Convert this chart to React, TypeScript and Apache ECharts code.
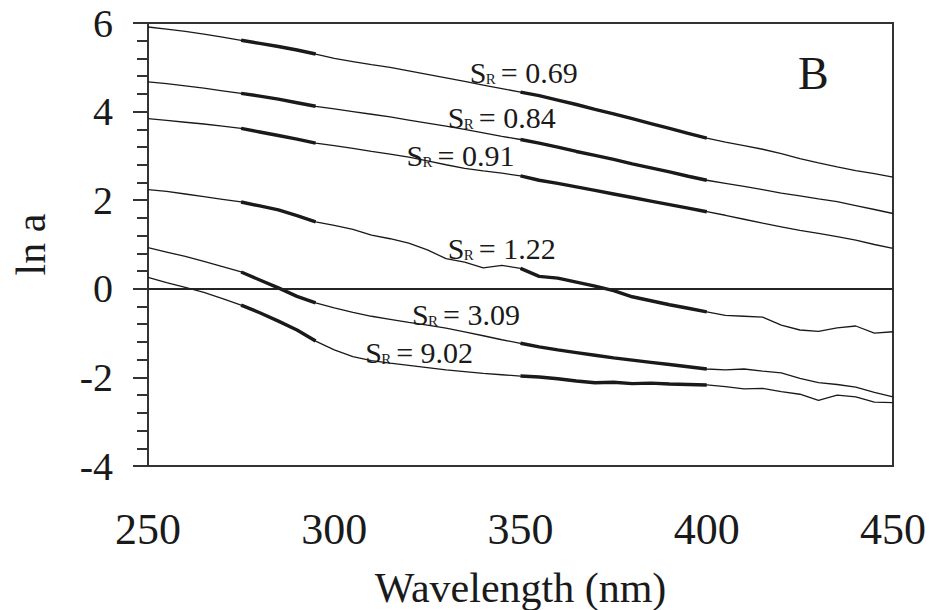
import React, { useEffect, useRef } from "react";
import * as echarts from "echarts";

// Wavelength grid (nm)
const wavelengths = [
  250, 255, 260, 265, 270, 275, 280, 285, 290, 295, 300, 305, 310, 315, 320, 325, 330, 335, 340, 345,
  350, 355, 360, 365, 370, 375, 380, 385, 390, 395, 400, 405, 410, 415, 420, 425, 430, 435, 440, 445, 450,
];

// ln a values for each spectral slope ratio S_R
const lnA_SR069 = [
  5.91, 5.86, 5.81, 5.75, 5.68, 5.61, 5.54, 5.47, 5.39, 5.30, 5.20, 5.13, 5.06, 5.00, 4.92, 4.84, 4.76, 4.68, 4.60, 4.52,
  4.44, 4.36, 4.26, 4.16, 4.05, 3.95, 3.84, 3.73, 3.62, 3.51, 3.40, 3.31, 3.23, 3.15, 3.05, 2.94, 2.84, 2.75, 2.67, 2.60, 2.52,
];
const lnA_SR084 = [
  4.67, 4.63, 4.58, 4.53, 4.47, 4.41, 4.35, 4.28, 4.20, 4.12, 4.06, 4.00, 3.94, 3.88, 3.81, 3.74, 3.67, 3.60, 3.52, 3.44,
  3.37, 3.29, 3.20, 3.10, 3.01, 2.92, 2.82, 2.73, 2.64, 2.54, 2.45, 2.38, 2.31, 2.24, 2.16, 2.10, 2.03, 1.97, 1.88, 1.79, 1.70,
];
const lnA_SR091 = [
  3.84, 3.80, 3.76, 3.72, 3.67, 3.62, 3.54, 3.46, 3.38, 3.29, 3.23, 3.17, 3.10, 3.04, 2.97, 2.89, 2.80, 2.72, 2.66, 2.61,
  2.55, 2.45, 2.38, 2.30, 2.22, 2.14, 2.06, 1.98, 1.90, 1.82, 1.74, 1.66, 1.57, 1.48, 1.40, 1.32, 1.25, 1.18, 1.10, 1.00, 0.91,
];
const lnA_SR122 = [
  2.24, 2.20, 2.14, 2.08, 2.02, 1.96, 1.87, 1.78, 1.65, 1.51, 1.43, 1.34, 1.21, 1.13, 1.03, 0.88, 0.68, 0.60, 0.47, 0.53,
  0.46, 0.28, 0.24, 0.15, 0.06, -0.04, -0.18, -0.27, -0.36, -0.44, -0.52, -0.60, -0.62, -0.64, -0.82, -0.93, -0.96, -0.88, -0.84, -1.00, -0.97,
];
const lnA_SR309 = [
  0.93, 0.83, 0.73, 0.62, 0.50, 0.38, 0.20, 0.02, -0.17, -0.32, -0.43, -0.53, -0.62, -0.69, -0.76, -0.82, -0.89, -0.97, -1.06, -1.15,
  -1.23, -1.31, -1.38, -1.44, -1.50, -1.56, -1.61, -1.66, -1.71, -1.76, -1.81, -1.83, -1.81, -1.86, -1.90, -2.02, -2.12, -2.16, -2.22, -2.34, -2.44,
];
const lnA_SR902 = [
  0.26, 0.14, 0.03, -0.08, -0.22, -0.37, -0.54, -0.73, -0.93, -1.18, -1.38, -1.53, -1.62, -1.68, -1.73, -1.78, -1.83, -1.87, -1.91, -1.94,
  -1.97, -1.99, -2.03, -2.08, -2.12, -2.11, -2.14, -2.13, -2.15, -2.16, -2.17, -2.21, -2.26, -2.25, -2.32, -2.38, -2.52, -2.40, -2.44, -2.56, -2.57,
];

const curves = [lnA_SR069, lnA_SR084, lnA_SR091, lnA_SR122, lnA_SR309, lnA_SR902];

// Fitting ranges drawn as thick segments (nm)
const fitRanges = [
  [275, 295],
  [350, 400],
];

// Curve annotations (S_R values and anchor points in data units)
const labelValues = ["0.69", "0.84", "0.91", "1.22", "3.09", "9.02"];
const labelX = [336.4, 330.5, 319.4, 330.5, 320.9, 308.3];
const labelY = [4.89, 3.87, 3.02, 0.92, -0.57, -1.43];

const yTicks = [-4, -2, 0, 2, 4, 6];
const xTicks = [250, 300, 350, 400, 450];

const FONT = "Liberation Serif";
const INK = "#1a1a1a";

export default function App() {
  const ref = useRef<HTMLDivElement>(null);

  useEffect(() => {
    if (!ref.current) return;
    const chart = echarts.init(ref.current, null, { renderer: "svg" });

    const inFit = (w: number) => fitRanges.some(([a, b]) => w >= a && w <= b);

    const series: any[] = [];
    curves.forEach((vals, ci) => {
      series.push({
        type: "line",
        data: wavelengths.map((w, i) => [w, vals[i]]),
        showSymbol: false,
        symbol: "none",
        lineStyle: { color: INK, width: 1.3 },
        z: 3,
        silent: true,
        markLine:
          ci === 0
            ? {
                silent: true,
                symbol: "none",
                label: { show: false },
                lineStyle: { color: "#222", width: 1.5, type: "solid" },
                data: [{ yAxis: 0 }],
              }
            : undefined,
      });
      series.push({
        type: "line",
        data: wavelengths.map((w, i) => (inFit(w) ? [w, vals[i]] : [w, "-"])),
        showSymbol: false,
        symbol: "none",
        connectNulls: false,
        lineStyle: { color: INK, width: 3.4 },
        z: 4,
        silent: true,
      });
    });

    series.push({
      type: "custom",
      data: labelValues.map((v, i) => [labelX[i], labelY[i]]),
      z: 5,
      silent: true,
      renderItem: (params: any, api: any) => {
        const [x, y] = api.coord([api.value(0), api.value(1)]);
        const v = labelValues[params.dataIndex];
        const base = { fontFamily: FONT, fill: INK, align: "left", verticalAlign: "middle" };
        return {
          type: "group",
          children: [
            { type: "text", x, y, style: { ...base, text: "S", fontSize: 30 } },
            { type: "text", x: x + 16, y: y + 7, style: { ...base, text: "R", fontSize: 15 } },
            { type: "text", x: x + 31, y, style: { ...base, text: "= " + v, fontSize: 30 } },
          ],
        };
      },
    });

    chart.setOption({
      animation: false,
      backgroundColor: "#ffffff",
      textStyle: { fontFamily: FONT },
      grid: {
        left: 148,
        top: 23,
        width: 745,
        height: 443,
        show: true,
        borderColor: "#333",
        borderWidth: 2,
        backgroundColor: "transparent",
        outerBoundsMode: "none",
        containLabel: false,
      },
      xAxis: {
        type: "value",
        min: xTicks[0],
        max: xTicks[xTicks.length - 1],
        interval: 50,
        name: "Wavelength (nm)",
        nameLocation: "middle",
        nameGap: 101,
        nameTextStyle: { fontFamily: FONT, fontSize: 42, color: INK },
        axisLine: { show: true, lineStyle: { color: "#333", width: 2 } },
        axisTick: { show: false },
        splitLine: { show: false },
        axisLabel: { fontFamily: FONT, fontSize: 44, color: INK, margin: 41 },
      },
      yAxis: {
        type: "value",
        min: yTicks[0],
        max: yTicks[yTicks.length - 1],
        interval: 2,
        name: "ln a",
        nameLocation: "middle",
        nameGap: 96,
        nameRotate: 90,
        nameTextStyle: { fontFamily: FONT, fontSize: 42, color: INK },
        axisLine: { show: true, lineStyle: { color: "#333", width: 2 } },
        axisTick: { show: true, inside: false, length: 15, lineStyle: { color: "#333", width: 2 } },
        minorTick: { show: true, splitNumber: 5, length: 11, lineStyle: { color: "#333", width: 2 } },
        splitLine: { show: false },
        minorSplitLine: { show: false },
        axisLabel: { fontFamily: FONT, fontSize: 40, color: INK, margin: 35 },
      },
      graphic: [
        {
          type: "text",
          left: 798,
          top: 50,
          style: { text: "B", fontFamily: FONT, fontSize: 46, fill: INK },
          silent: true,
        },
      ],
      series,
    });

    return () => chart.dispose();
  }, []);

  return (
    <div
      ref={ref}
      style={{ position: "fixed", left: 0, top: 0, width: 946, height: 610, background: "#fff" }}
    />
  );
}
